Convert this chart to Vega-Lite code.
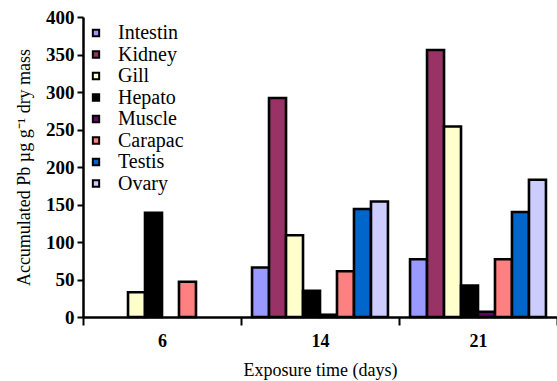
{
  "$schema": "https://vega.github.io/schema/vega-lite/v6.json",
  "width": 474,
  "height": 300,
  "autosize": {"type": "none"},
  "padding": {"left": 83, "top": 17, "right": 0, "bottom": 64},
  "background": "white",
  "config": {
    "view": {"stroke": null},
    "font": "Liberation Serif",
    "axis": {"labelFont": "Liberation Serif", "titleFont": "Liberation Serif"}
  },
  "data": {
    "values": [
      {"day": "6", "tissue": "Gill", "pb": 33},
      {"day": "6", "tissue": "Hepato", "pb": 139},
      {"day": "6", "tissue": "Carapac", "pb": 47},
      {"day": "14", "tissue": "Intestin", "pb": 66},
      {"day": "14", "tissue": "Kidney", "pb": 292},
      {"day": "14", "tissue": "Gill", "pb": 109},
      {"day": "14", "tissue": "Hepato", "pb": 35},
      {"day": "14", "tissue": "Muscle", "pb": 3},
      {"day": "14", "tissue": "Carapac", "pb": 61},
      {"day": "14", "tissue": "Testis", "pb": 144},
      {"day": "14", "tissue": "Ovary", "pb": 154},
      {"day": "21", "tissue": "Intestin", "pb": 77},
      {"day": "21", "tissue": "Kidney", "pb": 356},
      {"day": "21", "tissue": "Gill", "pb": 254},
      {"day": "21", "tissue": "Hepato", "pb": 42},
      {"day": "21", "tissue": "Muscle", "pb": 7},
      {"day": "21", "tissue": "Carapac", "pb": 77},
      {"day": "21", "tissue": "Testis", "pb": 140},
      {"day": "21", "tissue": "Ovary", "pb": 183}
    ]
  },
  "mark": {"type": "bar", "stroke": "black", "strokeWidth": 2.6},
  "encoding": {
    "x": {
      "field": "day",
      "type": "ordinal",
      "sort": ["6", "14", "21"],
      "scale": {"paddingInner": 0, "paddingOuter": 0},
      "axis": {
        "title": "Exposure time (days)",
        "titleFont": "Liberation Serif",
        "titleFontSize": 18,
        "titleFontWeight": "normal",
        "titleColor": "black",
        "titlePadding": 11,
        "labelAngle": 0,
        "labelFont": "Liberation Serif",
        "labelFontSize": 18,
        "labelFontWeight": "bold",
        "labelColor": "black",
        "labelPadding": 7,
        "tickBand": "extent",
        "tickSize": 8,
        "tickWidth": 2,
        "tickColor": "black",
        "domainColor": "black",
        "domainWidth": 2.5
      }
    },
    "xOffset": {
      "field": "tissue",
      "type": "nominal",
      "sort": ["Intestin", "Kidney", "Gill", "Hepato", "Muscle", "Carapac", "Testis", "Ovary"],
      "scale": {
        "domain": ["Intestin", "Kidney", "Gill", "Hepato", "Muscle", "Carapac", "Testis", "Ovary"],
        "paddingInner": 0,
        "paddingOuter": 0.65
      }
    },
    "y": {
      "field": "pb",
      "type": "quantitative",
      "scale": {"domain": [0, 400], "nice": false},
      "axis": {
        "title": "Accumulated Pb µg g⁻¹ dry mass",
        "titleFont": "Liberation Serif",
        "titleFontSize": 18,
        "titleFontWeight": "normal",
        "titleColor": "black",
        "titlePadding": 12,
        "values": [0, 50, 100, 150, 200, 250, 300, 350, 400],
        "grid": false,
        "labelFont": "Liberation Serif",
        "labelFontSize": 19,
        "labelFontWeight": "bold",
        "labelColor": "black",
        "labelPadding": 3,
        "tickSize": 6,
        "tickWidth": 2,
        "tickColor": "black",
        "domainColor": "black",
        "domainWidth": 2.5
      }
    },
    "color": {
      "field": "tissue",
      "type": "nominal",
      "sort": ["Intestin", "Kidney", "Gill", "Hepato", "Muscle", "Carapac", "Testis", "Ovary"],
      "scale": {
        "domain": ["Intestin", "Kidney", "Gill", "Hepato", "Muscle", "Carapac", "Testis", "Ovary"],
        "range": ["#9999FF", "#993366", "#FFFFCC", "#000000", "#660066", "#FF8080", "#0066CC", "#CCCCFF"]
      },
      "legend": {
        "title": null,
        "orient": "none",
        "legendX": 3,
        "legendY": 6,
        "symbolType": "square",
        "symbolSize": 40,
        "symbolStrokeColor": "black",
        "symbolStrokeWidth": 2,
        "labelFont": "Liberation Serif",
        "labelFontSize": 20,
        "labelColor": "black",
        "labelOffset": 12,
        "rowPadding": 1.5
      }
    }
  }
}
